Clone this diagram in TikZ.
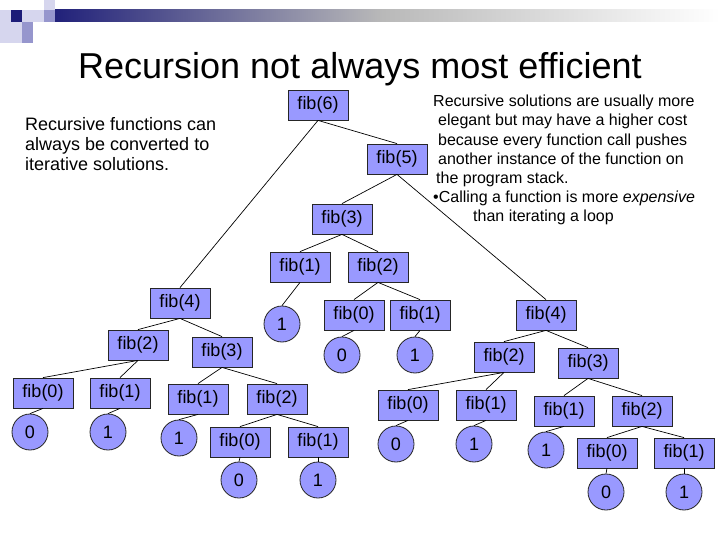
\documentclass[tikz,border=0pt]{standalone}
\usepackage{fontspec}
\setmainfont{Liberation Sans}
\usepackage{tikz}
\usetikzlibrary{calc}

\definecolor{boxcol}{RGB}{153,153,255}
\definecolor{navycol}{RGB}{28,28,120}
\definecolor{lightcol}{RGB}{214,214,238}
\definecolor{midcol}{RGB}{150,150,205}

\begin{document}
\begin{tikzpicture}[x=1pt,y=-1pt,
    fibbox/.style={draw=black!85, line width=0.8pt, fill=boxcol, minimum width=60pt,
        minimum height=30pt, inner sep=0pt, font=\fontsize{18}{20}\selectfont},
    leaf/.style={circle, draw=black!85, line width=0.8pt, fill=boxcol, minimum size=36pt,
        inner sep=0pt, font=\fontsize{18}{20}\selectfont},
    edge/.style={black, line width=0.7pt}]
\useasboundingbox (0,0) rectangle (720,540);
\fill[white] (0,0) rectangle (720,540);

% header
\shade[left color=navycol, right color=white, middle color=gray!55!white] (44,10) rectangle (720,22);
\fill[lightcol] (0,10) rectangle (22,43);
\fill[lightcol] (33,10) rectangle (44,22);
\fill[lightcol] (44,0) rectangle (55,10);
\fill[midcol] (44,10) rectangle (55,22);
\fill[midcol] (22,22) rectangle (33,43);
\fill[lightcol] (22,10) rectangle (33,22);
\fill[navycol] (11,10) rectangle (22,22);

\node[anchor=base, font=\fontsize{36}{40}\selectfont] (title) at (360,79)
    {Recursion not always most efficient};

\node[anchor=north west, align=left, inner sep=0pt, font=\fontsize{18}{20}\selectfont] (lnote) at (25,117)
    {Recursive functions can\\always be converted to\\iterative solutions.};

\node[anchor=north west, align=left, inner sep=0pt, font=\fontsize{16}{19.2}\selectfont] (rnote) at (433,95)
    {Recursive solutions are usually more\\
     \hspace*{5pt}elegant but may have a higher cost\\
     \hspace*{5pt}because every function call pushes\\
     \hspace*{5pt}another instance of the function on\\
     \hspace*{3pt}the program stack.\\
     •Calling a function is more \textit{expensive}\\
     \hspace*{40pt}than iterating a loop};

% top of the tree
\node[fibbox] (f6) at (318,105) {fib(6)};
\node[fibbox] (f5) at (397,159) {fib(5)};
\node[fibbox] (f3) at (342,219) {fib(3)};
\node[fibbox] (f3a) at (300,267) {fib(1)};
\node[fibbox] (f3b) at (378,267) {fib(2)};
\node[fibbox] (f3ba) at (354,315) {fib(0)};
\node[fibbox] (f3bb) at (420,315) {fib(1)};
\node[leaf] (c3a) at (282,324) {1};
\node[leaf] (c3ba) at (342,355) {0};
\node[leaf] (c3bb) at (415,355) {1};

% left fib(4)
\node[fibbox] (l4) at (180,303) {fib(4)};
\node[fibbox] (l2) at (138,345) {fib(2)};
\node[fibbox] (l3) at (222,352) {fib(3)};
\node[fibbox] (l20) at (43,393) {fib(0)};
\node[fibbox] (l21) at (120,393) {fib(1)};
\node[fibbox] (l31) at (198,399) {fib(1)};
\node[fibbox] (l32) at (277,399) {fib(2)};
\node[fibbox] (l320) at (240,442) {fib(0)};
\node[fibbox] (l321) at (318,442) {fib(1)};
\node[leaf] (cl20) at (30,432) {0};
\node[leaf] (cl21) at (108,432) {1};
\node[leaf] (cl31) at (179,438) {1};
\node[leaf] (cl320) at (239,480) {0};
\node[leaf] (cl321) at (318,480) {1};

% right fib(4)
\node[fibbox] (r4) at (546,315) {fib(4)};
\node[fibbox] (r2) at (504,357) {fib(2)};
\node[fibbox] (r3) at (588,363) {fib(3)};
\node[fibbox] (r20) at (408,405) {fib(0)};
\node[fibbox] (r21) at (486,405) {fib(1)};
\node[fibbox] (r31) at (564,411) {fib(1)};
\node[fibbox] (r32) at (642,411) {fib(2)};
\node[fibbox] (r320) at (607,453) {fib(0)};
\node[fibbox] (r321) at (684,453) {fib(1)};
\node[leaf] (cr20) at (396,444) {0};
\node[leaf] (cr21) at (474,444) {1};
\node[leaf] (cr31) at (546,450) {1};
\node[leaf] (cr320) at (606,492) {0};
\node[leaf] (cr321) at (684,492) {1};

\foreach \a/\b in {f6/l4, f6/f5, f5/f3, f5/r4, f3/f3a, f3/f3b, f3a/c3a, f3b/f3ba, f3b/f3bb,
    f3ba/c3ba, f3bb/c3bb, l4/l2, l4/l3, l2/l20, l2/l21, l20/cl20, l21/cl21, l3/l31, l3/l32,
    l31/cl31, l32/l320, l32/l321, l320/cl320, l321/cl321, r4/r2, r4/r3, r2/r20, r2/r21,
    r20/cr20, r21/cr21, r3/r31, r3/r32, r31/cr31, r32/r320, r32/r321, r320/cr320, r321/cr321}
    \draw[edge] (\a.south) -- (\b.north);
\end{tikzpicture}
\end{document}
